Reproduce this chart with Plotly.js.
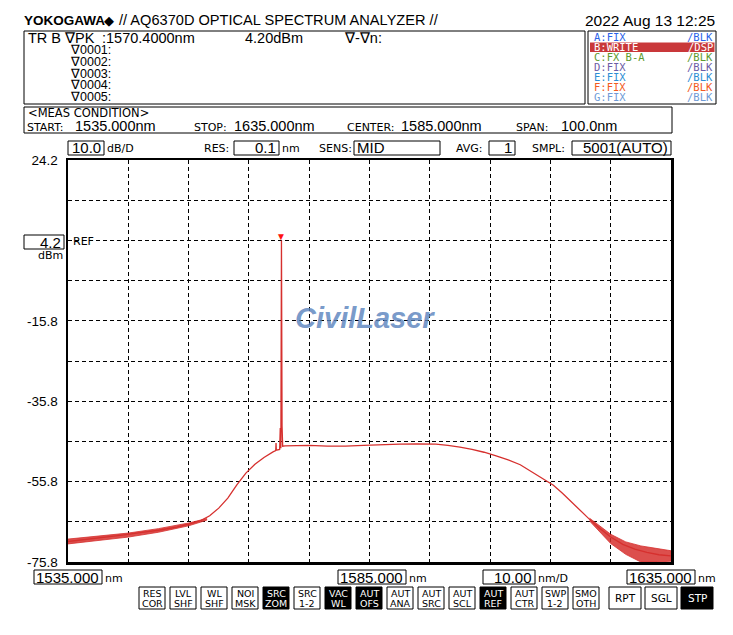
<!DOCTYPE html>
<html>
<head>
<meta charset="utf-8">
<script src="https://cdn.plot.ly/plotly-3.0.1.min.js"></script>
<style>html,body{margin:0;padding:0;background:#fff;}#chart{width:733px;height:635px;}</style>
</head>
<body>
<div id="chart"></div>
<script>
// ---------------- DATA ----------------
const wavelengthNm = [1535, 1538, 1541, 1544, 1547, 1550, 1553, 1555, 1557, 1558.5, 1560, 1561.5, 1563, 1564.5, 1566, 1567.5, 1569, 1569.45, 1569.5, 1569.55, 1570.1, 1570.2, 1570.3, 1570.4, 1570.5, 1570.6, 1571, 1573, 1575, 1578, 1581, 1584, 1587, 1590, 1593, 1596, 1598, 1600, 1602, 1604, 1606, 1608, 1610, 1612, 1614, 1615.5, 1617, 1618.5, 1620, 1621.5, 1623, 1625, 1627, 1629, 1631, 1633, 1635];
const powerDbm = [-70.7, -70.2, -69.6, -69.1, -68.5, -67.9, -67.1, -66.4, -65.5, -64.3, -62.4, -59.9, -56.6, -53.7, -51.5, -49.8, -48.4, -48.1, -46.2, -48.0, -47.8, -42.5, -47.5, 4.2, -42.0, -47.0, -46.9, -46.8, -46.8, -47.0, -47.0, -46.8, -46.6, -46.5, -46.4, -46.5, -46.8, -47.2, -47.8, -48.5, -49.4, -50.4, -51.6, -53.4, -55.2, -56.7, -58.7, -60.9, -63.0, -65.2, -67.2, -69.6, -71.4, -72.6, -73.4, -74.0, -74.3];

// noise envelope (upper / lower edge of the noisy trace)
const noiseLeftWl = [1535, 1540, 1545, 1550, 1555, 1558];
const noiseLeftHi = [-70.1, -69.4, -68.6, -67.5, -66.1, -65.0];
const noiseLeftLo = [-71.3, -70.5, -69.6, -68.4, -66.8, -65.4];
const noiseRightWl = [1621.5, 1623, 1625, 1627.5, 1630, 1632.5, 1635];
const noiseRightHi = [-64.9, -66.6, -68.9, -70.8, -71.8, -72.4, -73.0];
const noiseRightLo = [-65.6, -67.9, -71.2, -73.9, -75.8, -75.8, -75.6];

const peakWl = 1570.4;
const peakDbm = 4.2;

const yTickVals = [24.2, 14.2, 4.2, -5.8, -15.8, -25.8, -35.8, -45.8, -55.8, -65.8, -75.8];
const yTickText = ['24.2', '', '', '', '-15.8', '', '-35.8', '', '-55.8', '', '-75.8'];
const xRange = [1535, 1635];
const xTickVals = [1535, 1545, 1555, 1565, 1575, 1585, 1595, 1605, 1615, 1625, 1635];

const startLabel = '1535.000', centerLabel = '1585.000', stopLabel = '1635.000', spanLabel = '100.0';
const divLabel = '10.00', dbDivLabel = '10.0', refLabel = '4.2';

const traceNames = ['A:FIX', 'B:WRITE', 'C:FX B-A', 'D:FIX', 'E:FIX', 'F:FIX', 'G:FIX'];
const traceModes = ['/BLK', '/DSP', '/BLK', '/BLK', '/BLK', '/BLK', '/BLK'];
const markerRows = ['\u22070001:', '\u22070002:', '\u22070003:', '\u22070004:', '\u22070005:'];
const softKeys = [['RES','COR'],['LVL','SHF'],['WL','SHF'],['NOI','MSK'],['SRC','ZOM'],['SRC','1-2'],['VAC','WL'],['AUT','OFS'],['AUT','ANA'],['AUT','SRC'],['AUT','SCL'],['AUT','REF'],['AUT','CTR'],['SWP','1-2'],['SMO','OTH']];
const softKeyOn = [false,false,false,false,true,false,true,true,false,false,false,true,false,false,false];
const runKeys = ['RPT', 'SGL', 'STP'];
const runKeyOn = [false, false, true];

// ---------------- LAYOUT HELPERS ----------------
const L = 68, R = 671, T = 160, B = 562;
const px = x => (x - L) / (R - L);
const py = y => (B - y) / (B - T);
const NF = 'Liberation Sans, Arial, sans-serif';
const SF = 'DejaVu Sans, Verdana, sans-serif';
const MF = 'DejaVu Sans Mono, Liberation Mono, monospace';
const shapes = [];
const ann = [];
function rect(x0, y0, x1, y1, fill, lw) {
  shapes.push({type: 'rect', xref: 'paper', yref: 'paper', x0: px(x0), x1: px(x1), y0: py(y1), y1: py(y0),
    line: {color: '#000', width: lw === undefined ? 1 : lw}, fillcolor: fill || 'rgba(0,0,0,0)', layer: 'above'});
}
function txt(x, y, text, size, color, anchor, family) {
  ann.push({xref: 'paper', yref: 'paper', x: px(x), y: py(y), text: text, showarrow: false,
    xanchor: anchor || 'left', yanchor: 'middle', borderpad: 0,
    font: {family: family || NF, size: size, color: color || '#000'}});
}

// header
txt(23, 20, '<b>YOKOGAWA</b>', 13.5, '#000', 'left', NF);
txt(103, 20, '\u25C6', 13, '#000', 'left', NF);
txt(118, 20, '// AQ6370D OPTICAL SPECTRUM ANALYZER //', 14.6, '#000', 'left', NF);
txt(716, 20, '2022 Aug 13 12:25', 15.5, '#000', 'right', NF);

// marker box
rect(24, 31, 585, 104);
txt(27, 38.5, 'TR B \u2207PK', 14.5, '#000', 'left', NF);
txt(101, 38.5, ':' + peakWl.toFixed(4) + 'nm', 14.5, '#000', 'left', NF);
txt(244, 38.5, peakDbm.toFixed(2) + 'dBm', 14.5, '#000', 'left', NF);
txt(343, 38.5, '\u2207-\u2207n:', 14.5, '#000', 'left', NF);
markerRows.forEach((m, i) => txt(69, 50 + i * 11.8, m, 12.5, '#000', 'left', NF));

// trace list box
rect(588, 31, 716, 104);
const traceColors = ['#2a62e8', '#ffffff', '#5e9a2e', '#6c5ca6', '#2c8ed4', '#f25a22', '#6e9ad6'];
shapes.push({type: 'rect', xref: 'paper', yref: 'paper', x0: px(590), x1: px(714.5), y0: py(52), y1: py(42.5),
  line: {width: 0}, fillcolor: '#c9383a', layer: 'above'});
traceNames.forEach((n, i) => {
  txt(593, 37.5 + i * 10, n, 10.5, traceColors[i], 'left', MF);
  txt(714, 37.5 + i * 10, traceModes[i], 10.5, traceColors[i], 'right', MF);
});

// meas condition box
rect(24, 107, 672, 133);
txt(27, 113.5, '&lt;MEAS CONDITION&gt;', 11.5, '#000', 'left', SF);
txt(26, 127, 'START:', 11, '#000', 'left', SF);
txt(74, 126, startLabel + 'nm', 14.5, '#000', 'left', NF);
txt(193, 127, 'STOP:', 11, '#000', 'left', SF);
txt(233, 126, stopLabel + 'nm', 14.5, '#000', 'left', NF);
txt(346, 127, 'CENTER:', 11, '#000', 'left', SF);
txt(400, 126, centerLabel + 'nm', 14.5, '#000', 'left', NF);
txt(515, 127, 'SPAN:', 11, '#000', 'left', SF);
txt(560, 126, spanLabel + 'nm', 14.5, '#000', 'left', NF);

// settings bar
rect(68, 141, 104, 155);
txt(102, 148, dbDivLabel, 15, '#000', 'right', NF);
txt(106, 149, 'dB/D', 11, '#000', 'left', SF);
txt(203, 149, 'RES:', 11, '#000', 'left', SF);
rect(234, 141, 279, 155);
txt(277, 148, '0.1', 15, '#000', 'right', NF);
txt(281, 149, 'nm', 11, '#000', 'left', SF);
txt(318, 149, 'SENS:', 11, '#000', 'left', SF);
rect(354, 141, 440, 155);
txt(356, 148, 'MID', 15, '#000', 'left', NF);
txt(455, 149, 'AVG:', 11, '#000', 'left', SF);
rect(489, 141, 515, 155);
txt(513, 148, '1', 15, '#000', 'right', NF);
txt(531, 149, 'SMPL:', 11, '#000', 'left', SF);
rect(572, 141, 671, 155);
txt(669, 148, '5001(AUTO)', 15, '#000', 'right', NF);

// ref level
rect(24, 235, 64, 249);
txt(62, 242, refLabel, 15, '#000', 'right', NF);
txt(64, 255, 'dBm', 11, '#000', 'right', SF);
txt(72, 241, 'REF', 11, '#000', 'left', SF);

// wavelength boxes
rect(34, 570, 102, 584);
txt(100, 577, startLabel, 15, '#000', 'right', NF);
txt(104, 578, 'nm', 11, '#000', 'left', SF);
rect(338, 570, 406, 584);
txt(404, 577, centerLabel, 15, '#000', 'right', NF);
txt(408, 578, 'nm', 11, '#000', 'left', SF);
rect(483, 570, 535, 584);
txt(533, 577, divLabel, 15, '#000', 'right', NF);
txt(537, 578, 'nm/D', 11, '#000', 'left', SF);
rect(627, 570, 695, 584);
txt(693, 577, stopLabel, 15, '#000', 'right', NF);
txt(697, 578, 'nm', 11, '#000', 'left', SF);

// soft keys
softKeys.forEach((k, i) => {
  const x0 = 139 + i * 31.0, x1 = x0 + 26;
  const on = softKeyOn[i];
  rect(x0, 587, x1, 609, on ? '#000' : '#fff', 1);
  txt((x0 + x1) / 2, 593.5, k[0], 9.5, on ? '#fff' : '#000', 'center', SF);
  txt((x0 + x1) / 2, 603, k[1], 9.5, on ? '#fff' : '#000', 'center', SF);
});
runKeys.forEach((k, i) => {
  const x0 = 609 + i * 36, x1 = x0 + 32;
  const on = runKeyOn[i];
  rect(x0, 587, x1, 609, on ? '#000' : '#fff', 1);
  txt((x0 + x1) / 2, 598, k, 10.5, on ? '#fff' : '#000', 'center', SF);
});

// watermark
txt(365, 318, '<b><i>CivilLaser</i></b>', 29, 'rgba(92,132,190,0.82)', 'center', 'Liberation Sans, Arial, sans-serif');

// peak marker
ann.push({x: peakWl, y: peakDbm, xref: 'x', yref: 'y', text: '\u25BC', showarrow: false,
  xanchor: 'center', yanchor: 'bottom', yshift: -4, font: {family: NF, size: 10, color: '#ff1010'}});

// ---------------- TRACES ----------------
const RED = '#d6302e';
const band = (wl, hi, lo, alpha) => ({
  x: wl.concat(wl.slice().reverse()), y: hi.concat(lo.slice().reverse()),
  type: 'scatter', mode: 'lines', fill: 'toself', fillcolor: 'rgba(214,48,46,' + alpha + ')',
  line: {color: RED, width: 0.8}, hoverinfo: 'skip'
});
const traces = [
  band(noiseLeftWl, noiseLeftHi, noiseLeftLo, 0.85),
  band(noiseRightWl, noiseRightHi, noiseRightLo, 0.85),
  {x: wavelengthNm, y: powerDbm, type: 'scatter', mode: 'lines', line: {color: RED, width: 1.3}, hoverinfo: 'skip'}
];

const gridStyle = {showgrid: true, gridcolor: '#000', gridwidth: 1, griddash: '4px,3px'};
const layout = {
  width: 733, height: 635,
  margin: {l: L, r: 733 - R, t: T, b: 635 - B, pad: 0, autoexpand: false},
  paper_bgcolor: '#fff', plot_bgcolor: '#fff', showlegend: false,
  xaxis: Object.assign({range: xRange, tickmode: 'array', tickvals: xTickVals, showticklabels: false, ticks: '',
    showline: true, linecolor: '#000', linewidth: 2.5, mirror: true, zeroline: false, fixedrange: true}, gridStyle),
  yaxis: Object.assign({range: [yTickVals[yTickVals.length - 1], yTickVals[0]], tickmode: 'array', tickvals: yTickVals, ticktext: yTickText,
    ticks: '', ticklabelstandoff: 5, tickfont: {family: NF, size: 13.5, color: '#000'},
    showline: true, linecolor: '#000', linewidth: 2.5, mirror: true, zeroline: false, fixedrange: true}, gridStyle),
  shapes: shapes,
  annotations: ann
};
Plotly.newPlot('chart', traces, layout, {staticPlot: true, displayModeBar: false});
</script>
</body>
</html>
